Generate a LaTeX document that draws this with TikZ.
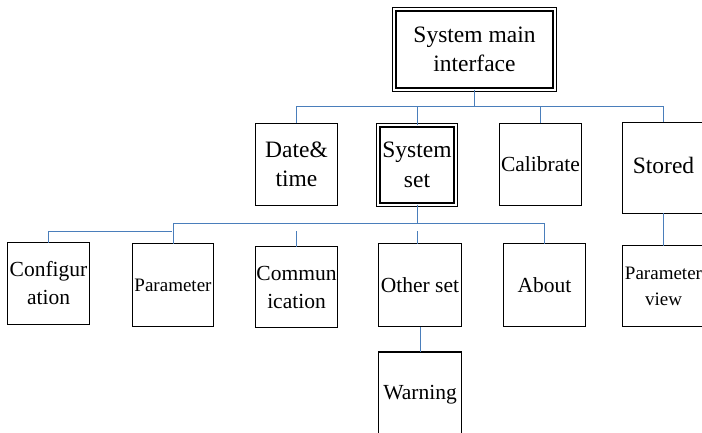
\documentclass[tikz,border=0pt]{standalone}
\usepackage{fontspec}
\setmainfont{Liberation Serif}
\definecolor{color_wire}{HTML}{4A7EBB}
\definecolor{color_box_line}{HTML}{000000}
\def\boxlinewidth{1.8pt}
\def\wirelinewidth{1pt}
\def\menufontbig{\fontsize{23.5}{29.5}\selectfont}
\def\menufontmid{\fontsize{21.5}{28}\selectfont}
\def\menufontsmall{\fontsize{19}{26}\selectfont}
\tikzset{
    menubox/.style={draw=color_box_line, line width=\boxlinewidth, inner sep=0pt, outer sep=0pt,
        align=center, minimum width=82pt, minimum height=82pt, font=\menufontmid},
    menudbox/.style={menubox, double, double distance=2.2pt, line width=1.3pt},
    wire/.style={color_wire, line width=\wirelinewidth},
}

\begin{document}
\begin{tikzpicture}[x=1pt,y=-1pt]
    \useasboundingbox (0,0) rectangle (702,433);
    \clip (0,0) rectangle (702,433);
    % top level
    \node[menudbox, minimum width=160.4pt, minimum height=80.4pt, font=\menufontbig] (main) at (474.5,49.5) {System main\\interface};
    % second level
    \node[menubox, font=\menufontbig] (date) at (296.5,164.5) {Date\&\\time};
    \node[menudbox, minimum width=77.4pt, minimum height=79.4pt, font=\menufontbig] (sysset) at (417,165) {System\\set};
    \node[menubox] (calib) at (540.5,164.5) {Calibrate};
    \node[menubox, minimum height=91pt, font=\menufontbig] (stored) at (663.5,168) {\raisebox{5pt}{Stored}};
    % third level
    \node[menubox] (config) at (48.5,283.5) {Configur\\ation};
    \node[menubox, minimum width=81pt, minimum height=83pt, font=\menufontsmall] (param) at (173,285) {Parameter};
    \node[menubox, minimum height=81pt] (comm) at (296.5,287) {Commun\\ication};
    \node[menubox, minimum width=83pt, minimum height=83pt] (other) at (420,285) {Other set};
    \node[menubox, minimum height=83pt] (about) at (544.5,285) {About};
    \node[menubox, minimum height=81pt, font=\menufontsmall] (pview) at (663.5,286) {Parameter\\view};
    % fourth level
    \node[menubox, minimum width=83pt, minimum height=86pt] (warning) at (420,395) {Warning};
    % connectors
    \coordinate (bus1) at (474.5,107);
    \coordinate (bus2) at (417,223);
    \coordinate (tap) at (172,231);
    \draw[wire] (main.south) -- (bus1);
    \foreach \n in {date,sysset,calib,stored}
        \draw[wire] (\n.north) |- (bus1);
    \draw[wire] (sysset.south) -- (bus2);
    \foreach \n in {param,about}
        \draw[wire] (\n.north) |- (bus2);
    \draw[wire] (config.north) |- (tap);
    \draw[wire] (comm.north) -- (comm.north |- tap);
    \draw[wire] (other.north -| bus2) -- (tap -| bus2);
    \draw[wire] (stored.south) -- (pview.north);
    \draw[wire] (other.south) -- (warning.north);
\end{tikzpicture}
\end{document}
